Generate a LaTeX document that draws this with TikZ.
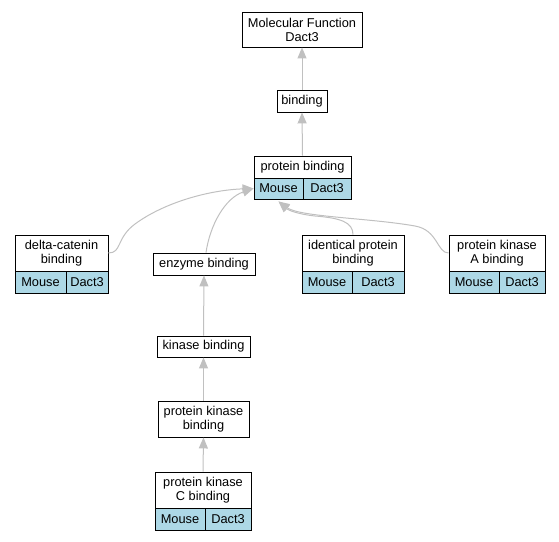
\documentclass[tikz,border=0pt]{standalone}
\usepackage{fontspec}
\setmainfont{Liberation Sans}
\usetikzlibrary{arrows.meta,calc}
\definecolor{edgegray}{RGB}{192,192,192}
\definecolor{cellblue}{RGB}{173,216,230}
\newcommand\bx[7]{\node[#6, minimum width={#4-#2}, minimum height={#5-#3}] (#1) at ({(#2+#4)/2},{(#3+#5)/2}) {#7};}
\begin{document}
\begin{tikzpicture}[x=1pt,y=-1pt,
  box/.style={draw=black, line width=0.9pt, fill=white, inner sep=0pt, align=center,
    font=\fontsize{12.8}{14}\selectfont},
  cell/.style={box, fill=cellblue},
  link/.style={draw=edgegray, line width=1pt, -{Triangle[length=11pt,width=9pt]}}]
\useasboundingbox (0,0) rectangle (559,541);
\bx{mf}{242}{12}{362}{47}{box}{Molecular Function\\Dact3}
\bx{bind}{277}{90}{327}{112}{box}{binding}
\bx{pb}{254}{156}{351}{178}{box}{protein binding}
\bx{pbm}{254}{178}{303}{199}{cell}{Mouse}
\bx{pbd}{303}{178}{351}{199}{cell}{Dact3}
\bx{dc}{15}{235}{108}{271}{box}{delta-catenin\\binding}
\bx{dcm}{15}{271}{66}{293}{cell}{Mouse}
\bx{dcd}{66}{271}{108}{293}{cell}{Dact3}
\bx{en}{153}{253}{255}{275}{box}{enzyme binding}
\bx{ip}{302}{235}{404}{271}{box}{identical protein\\binding}
\bx{ipm}{302}{271}{352}{293}{cell}{Mouse}
\bx{ipd}{352}{271}{404}{293}{cell}{Dact3}
\bx{pka}{449}{235}{545}{271}{box}{protein kinase\\A binding}
\bx{pkam}{449}{271}{499}{293}{cell}{Mouse}
\bx{pkad}{499}{271}{545}{293}{cell}{Dact3}
\bx{kb}{157}{336}{250}{357}{box}{kinase binding}
\bx{pkb}{158}{401}{249}{437}{box}{protein kinase\\binding}
\bx{pkc}{155}{472}{251}{508}{box}{protein kinase\\C binding}
\bx{pkcm}{155}{508}{205}{530}{cell}{Mouse}
\bx{pkcd}{205}{508}{251}{530}{cell}{Dact3}
\coordinate (pbtip) at ($(pbm.south)+(0,2)$);
\coordinate (enstart) at ($(en.north)+(2,0)$);
\draw[link] (bind.north) -- (mf.south);
\draw[link] (pb.north) -- (bind.south);
\draw[link] (dc.east) .. controls (122,253) and (116,238) .. (135,224)
  .. controls (165,202) and (210,190) .. (pbm.west);
\draw[link] (enstart) .. controls (210,225) and (225,198) .. (pbm.west);
\draw[link] (ip.north) .. controls (353,222) and (340,218) .. (315,216)
  .. controls (297,214) and (288,210) .. (pbtip);
\draw[link] (pka.west) .. controls (437,253) and (438,230) .. (415,226)
  .. controls (370,218) and (300,217) .. (pbtip);
\draw[link] (kb.north) -- (en.south);
\draw[link] (pkb.north) -- (kb.south);
\draw[link] (pkc.north) -- (pkb.south);
\end{tikzpicture}
\end{document}
